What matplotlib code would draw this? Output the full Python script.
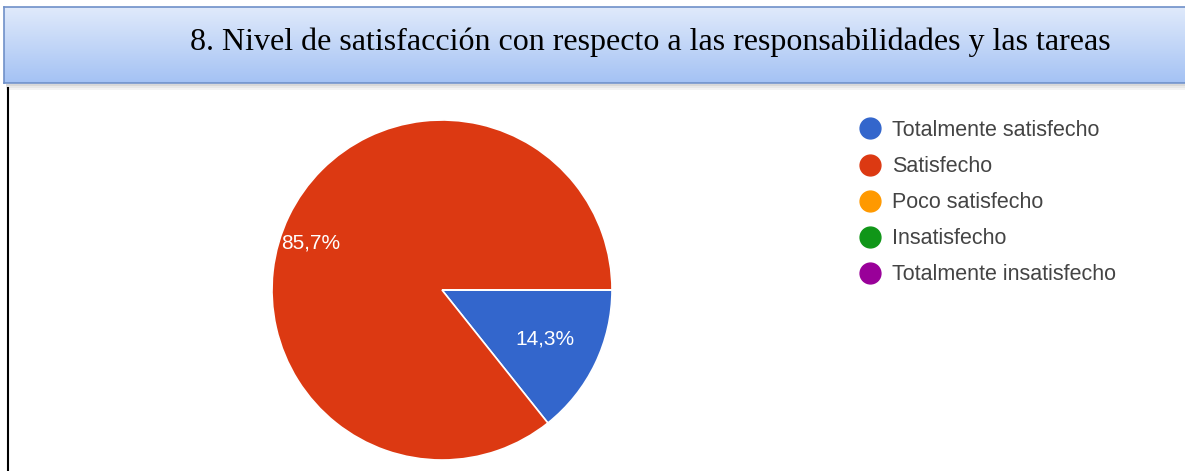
import numpy as np
import matplotlib
matplotlib.use("Agg")
import matplotlib.pyplot as plt
from matplotlib.patches import Rectangle
from matplotlib.lines import Line2D

title = "8. Nivel de satisfacción con respecto a las responsabilidades y las tareas"
categories = ["Totalmente satisfecho", "Satisfecho", "Poco satisfecho",
              "Insatisfecho", "Totalmente insatisfecho"]
values = [14.3, 85.7, 0.0, 0.0, 0.0]
colors = ["#3366cc", "#dc3912", "#ff9900", "#109618", "#990099"]

W, H = 1185, 471
fig = plt.figure(figsize=(W / 100, H / 100), dpi=100)
fig.patch.set_facecolor("white")

def fx(px):
    return px / W

def fy(py):
    return 1 - py / H

# Header shadow (soft)
for k, a in enumerate([0.35, 0.2, 0.1]):
    fig.patches.append(Rectangle((fx(6), fy(84 + 2 * (k + 1))), fx(1185), 2 / H,
                                 transform=fig.transFigure, facecolor="#909090",
                                 alpha=a, edgecolor="none", zorder=0))
# Header gradient box
hax = fig.add_axes([fx(4), fy(83), fx(1185), 76 / H])
grad = np.linspace(0, 1, 100).reshape(-1, 1)
top = np.array([0xe0, 0xea, 0xfb]) / 255
bot = np.array([0xa4, 0xc2, 0xf4]) / 255
img = top[None, None, :] * (1 - grad[:, :, None]) + bot[None, None, :] * grad[:, :, None]
hax.imshow(img, aspect="auto", extent=[0, 1, 0, 1], origin="upper")
hax.set_xticks([])
hax.set_yticks([])
for s in hax.spines.values():
    s.set_color("#6f90c8")
    s.set_linewidth(1.2)
fig.text(fx(650), fy(42), title, ha="center", va="center",
         fontsize=23, family="Liberation Serif", color="#000000")

# Left vertical line
fig.add_artist(Line2D([fx(8), fx(8)], [fy(88), 0], transform=fig.transFigure,
                      color="black", linewidth=1.5))

# Pie
cx, cy, r = 442, 290, 170
ax = fig.add_axes([fx(cx - r), fy(cy + r), 2 * r / W, 2 * r / H])
wedges, _ = ax.pie(values, colors=colors, startangle=0, counterclock=False,
                   wedgeprops=dict(edgecolor="white", linewidth=1.2))
ax.set_xlim(-1, 1)
ax.set_ylim(-1, 1)
ax.set_aspect("equal")
ax.axis("off")

dist = {0: 0.67, 1: 0.82}
shift = {0: 0.0, 1: 6.0}
for i, (w, v) in enumerate(zip(wedges, values)):
    if v <= 0:
        continue
    ang = np.deg2rad((w.theta1 + w.theta2) / 2 + shift[i])
    d = dist[i]
    ax.text(d * np.cos(ang), d * np.sin(ang), f"{v:.1f}%".replace(".", ","),
            ha="center", va="center", color="white", fontsize=15,
            family="Liberation Sans")

# Legend
handles = [Line2D([], [], marker="o", linestyle="none", markersize=15,
                  markerfacecolor=c, markeredgecolor=c) for c in colors]
leg = fig.legend(handles, categories, loc="upper left",
                 bbox_to_anchor=(fx(858), fy(120)), frameon=False,
                 prop=dict(family="Liberation Sans", size=15.5),
                 labelspacing=0.7, handletextpad=0.5, handlelength=1.1,
                 borderaxespad=0, borderpad=0)
for t in leg.get_texts():
    t.set_color("#444444")

fig.savefig("out.png", dpi=100)
